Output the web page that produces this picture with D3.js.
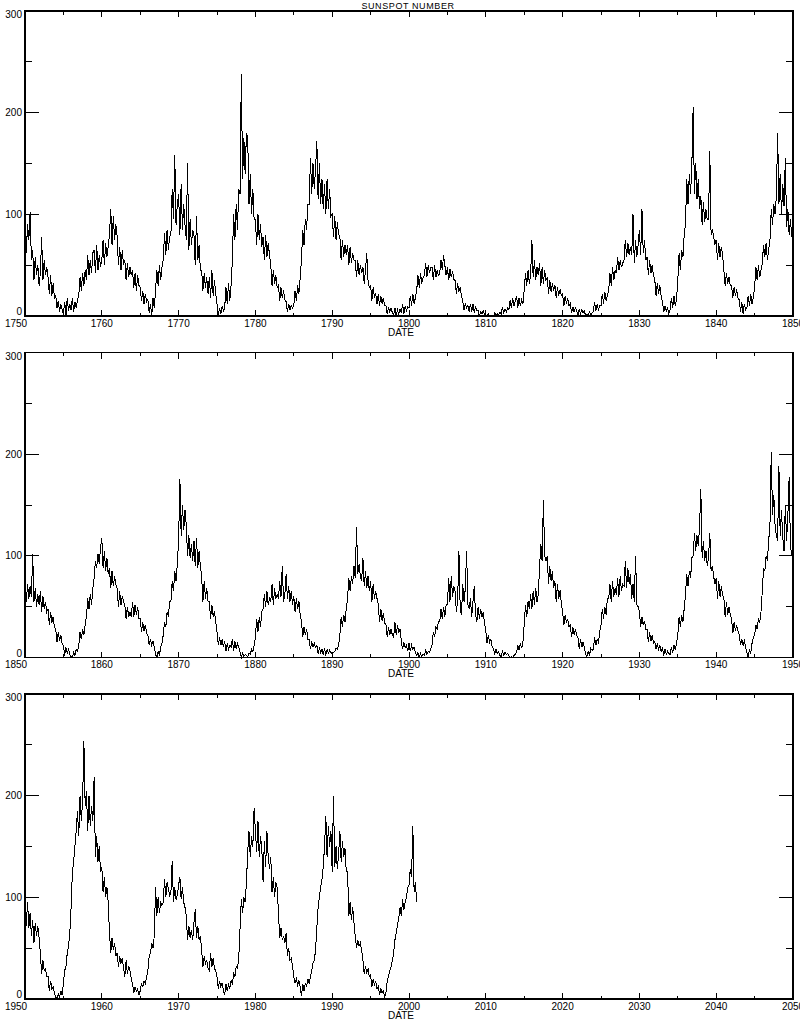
<!DOCTYPE html>
<html><head><meta charset="utf-8">
<script src="https://cdn.jsdelivr.net/npm/d3@7/dist/d3.min.js"></script>
<style>
html,body{margin:0;padding:0;background:#fff;}
svg text{font-family:"Liberation Sans",Arial,sans-serif;fill:#000;}
</style></head>
<body>
<svg id="chart" width="800" height="1024"></svg>
<script>
// Bi-monthly sunspot numbers (6 values per year)
const sun1750 = [
100,62,90,75,102,55, 65,35,58,40,50,30, 42,78,35,55,40,48, 38,22,40,20,32,18, 20,8,15,4,12,6,
2,14,0,18,5,12, 6,18,4,14,8,16, 20,38,25,42,30,45, 35,60,40,55,42,62, 65,42,70,45,60,48,
55,75,50,72,58,68, 80,105,70,98,75,90, 78,50,68,45,65,50, 55,35,52,38,48,40, 45,28,42,25,40,30,
28,15,25,12,22,14, 16,3,12,0,18,8, 25,45,30,50,35,48, 55,82,60,85,65,78, 80,125,95,158,90,110,
120,80,130,85,110,90, 75,150,65,95,70,85, 80,50,98,55,70,45, 45,25,42,28,38,22, 38,18,45,20,35,22,
12,0,8,2,10,5, 8,28,12,32,15,30, 55,100,75,110,85,125, 120,238,135,175,140,180, 175,110,140,100,125,95,
95,70,100,75,90,68, 78,55,80,58,72,60, 50,30,45,32,40,28, 30,15,28,18,25,16, 14,4,12,6,10,8,
10,25,15,30,22,38, 55,85,70,95,85,110, 110,155,120,150,125,145, 172,115,150,110,135,105, 130,100,135,105,125,98,
100,78,98,75,92,80, 78,55,75,58,70,60, 70,50,68,52,62,55, 55,38,55,40,50,42, 48,32,45,62,35,28,
30,15,28,18,22,12, 22,10,20,12,18,10, 10,2,9,4,8,3, 1,8,0,6,2,7, 3,12,2,10,5,9,
8,20,10,22,12,18, 25,40,28,42,32,38, 40,52,38,50,42,48, 48,35,50,38,45,40, 42,55,45,60,50,40,
48,35,46,38,44,36, 35,22,32,24,28,20, 15,6,12,8,10,4, 12,4,12,3,10,5, 5,0,4,2,5,1,
0,0,2,0,0,1, 0,3,0,2,1,4, 2,9,3,7,4,8, 6,16,8,18,10,15, 20,8,18,10,16,12,
25,42,30,45,32,40, 75,38,55,35,48,40, 52,30,48,32,45,35, 38,22,35,24,32,25, 30,18,28,20,26,20,
22,10,20,12,18,10, 12,3,9,4,8,5, 1,7,2,6,3,5, 0,2,0,4,1,3, 4,14,5,12,6,10,
10,22,12,24,15,20, 25,42,30,48,35,45, 42,58,45,55,48,52, 55,75,58,72,60,68, 60,100,52,75,58,70,
85,60,105,62,75,55, 58,40,55,42,50,40, 36,20,32,22,30,20, 14,4,10,5,8,2, 6,18,8,20,10,16,
35,62,45,65,58,80, 90,135,110,140,120,150, 206,120,150,115,135,105, 118,90,112,92,105,95, 95,162,80,85,78,70,
75,55,72,58,68,60, 45,30,42,32,38,30, 30,18,28,20,26,18, 16,4,14,2,12,6, 8,20,10,22,12,18,
28,48,35,50,38,45, 52,70,58,72,55,65, 75,105,90,110,100,118, 180,110,140,100,130,108, 155,88,105,80,95,78
];
const sun1850 = [
75,55,72,58,70,60, 102,55,68,50,62,52, 65,45,60,48,55,45, 48,32,45,34,40,30, 28,15,25,16,22,14,
12,2,10,4,8,3, 1,0,5,2,8,6, 12,25,18,28,22,32, 40,58,48,62,52,68, 78,95,88,102,92,108,
117,88,105,85,98,82, 88,68,85,70,80,72, 68,50,65,52,60,55, 52,38,50,40,45,40, 55,40,52,42,50,38,
38,25,35,26,32,24, 22,12,18,12,16,10, 3,0,6,2,10,14, 22,35,30,45,40,55, 55,75,65,85,75,92,
115,176,120,150,125,145, 130,100,120,98,112,95, 115,90,118,88,105,90, 80,55,75,58,68,55, 55,38,52,40,46,35,
25,12,20,12,18,10, 16,6,14,8,12,10, 18,6,16,8,14,10, 5,0,4,1,3,2, 1,4,3,8,6,12,
20,38,25,40,30,45, 48,62,50,65,52,58, 55,72,52,68,58,62, 58,75,60,90,55,62, 82,58,70,55,65,52,
60,45,58,48,55,42, 35,20,30,22,28,18, 18,8,16,10,14,10, 12,4,9,5,8,3, 9,2,8,4,7,5,
3,5,6,9,8,12, 22,40,30,42,35,48, 58,78,65,80,72,90, 78,128,82,92,80,75, 98,70,85,68,80,65,
75,55,72,58,65,58, 52,35,48,36,44,34, 32,20,30,22,28,22, 20,35,22,32,24,28, 16,8,15,10,12,6,
14,6,12,8,10,5, 2,5,0,4,1,3, 2,7,3,6,5,9, 12,25,20,30,28,35, 35,48,38,50,40,52,
52,78,55,80,60,70, 65,45,55,105,48,42, 72,55,68,105,52,48, 58,40,55,70,42,35, 50,38,48,40,45,34,
26,14,22,15,18,10, 9,3,8,4,6,2, 1,6,2,5,3,4, 2,0,1,0,2,3, 5,12,7,14,9,15,
32,52,40,55,48,62, 48,65,52,68,55,62, 88,112,95,155,100,95, 100,72,90,75,85,68, 75,55,72,58,66,54,
45,32,42,34,38,30, 32,20,30,22,28,22, 20,8,18,10,15,10, 3,1,6,2,9,7, 8,20,12,18,15,25,
32,48,38,50,42,58, 58,72,55,75,60,68, 62,78,60,80,65,72, 70,95,68,88,72,82, 58,72,55,100,52,50,
45,30,40,32,36,28, 28,15,25,16,22,14, 16,8,14,8,12,6, 10,2,8,3,6,4, 3,10,5,12,8,14,
22,40,30,42,35,48, 62,82,70,85,78,98, 100,122,105,120,110,128, 166,98,115,95,105,90, 98,122,85,90,80,72,
78,58,75,60,70,62, 58,40,55,42,50,42, 38,24,35,26,32,26, 22,12,18,12,16,10, 5,0,8,4,14,20,
22,32,28,38,35,45, 65,88,85,100,95,115, 130,202,140,160,130,120, 115,188,120,145,118,105, 150,115,140,178,110,100
];
const sun1950 = [
110,72,95,70,85,62, 78,55,75,62,72,60, 45,25,38,28,30,22, 22,8,18,10,12,6, 2,0,5,1,8,4,
15,28,32,45,52,65, 90,125,135,150,165,185, 160,200,175,195,254,190, 205,165,200,170,190,175, 218,140,160,135,150,125,
130,105,120,100,110,95, 65,45,60,48,55,42, 45,32,42,35,40,30, 22,38,25,32,28,20, 15,6,12,8,10,4,
8,15,12,18,15,22, 28,42,45,55,50,62, 110,82,100,85,95,92, 95,118,100,115,108,102, 105,136,95,110,98,102,
112,120,98,110,95,90, 82,58,72,60,68,58, 75,88,60,72,58,62, 48,32,42,35,38,30, 28,45,32,40,30,28,
22,10,18,12,16,8, 4,15,8,14,10,18, 15,25,22,32,30,40, 70,98,85,100,95,115, 145,165,140,160,150,188,
165,145,175,140,160,148, 115,155,130,165,140,128, 140,105,120,100,115,110, 85,60,70,58,62,55, 65,42,50,38,40,32,
22,16,20,14,18,12, 3,15,8,16,12,20, 15,22,28,35,38,48, 70,90,100,110,118,130, 150,180,140,170,150,165,
125,200,130,150,128,142, 165,135,155,140,148,125, 125,82,95,78,90,75, 62,50,58,52,55,48, 38,25,32,26,30,22,
24,12,20,14,18,10, 12,4,10,6,8,2, 6,18,22,28,32,38, 45,58,65,72,80,90, 82,98,88,95,100,110,
112,128,120,170,105,115, 95
];
const panelStarts = [1750, 1850, 1950];
const panelSeries = [sun1750, sun1850, sun1950];
const perYear = 6;
const yTickLabels = [0, 100, 200, 300];
const titleText = "SUNSPOT NUMBER";
const xAxisTitle = "DATE";

const svg = d3.select("#chart");
const left = 25, right = 793, ph = 305;
const tops = [11, 352.5, 694];

svg.append("text").attr("x", 408).attr("y", 8.5).attr("text-anchor", "middle")
  .attr("font-size", 9).attr("letter-spacing", 0.6).text(titleText);

panelStarts.forEach((start, p) => {
  const top = tops[p], bottom = top + ph;
  const x = d3.scaleLinear().domain([start, start + 100]).range([left, right]);
  const y = d3.scaleLinear().domain([0, 300]).range([bottom, top]);
  const g = svg.append("g");
  const vals = panelSeries[p];
  const pts = vals.map((v, i) => [start + i / perYear, v]);

  const line = d3.line().x(d => x(d[0])).y(d => y(d[1]));
  g.append("path").datum(pts).attr("d", line).attr("fill", "none")
    .attr("stroke", "#000").attr("stroke-width", 1).attr("shape-rendering", "crispEdges");

  // frame
  g.append("rect").attr("x", left).attr("y", top).attr("width", right - left).attr("height", ph)
    .attr("fill", "none").attr("stroke", "#000").attr("stroke-width", 1.2).attr("shape-rendering", "crispEdges");

  const majorX = d3.range(start, start + 101, 10);
  const minorX = d3.range(start + 5, start + 100, 10);
  const tk = (xs, len) => {
    xs.forEach(v => {
      g.append("line").attr("x1", x(v)).attr("x2", x(v)).attr("y1", bottom).attr("y2", bottom - len)
        .attr("stroke", "#000").attr("shape-rendering", "crispEdges");
      g.append("line").attr("x1", x(v)).attr("x2", x(v)).attr("y1", top).attr("y2", top + len)
        .attr("stroke", "#000").attr("shape-rendering", "crispEdges");
    });
  };
  tk(majorX, 6); tk(minorX, 3.5);
  const ytk = (vs, len) => {
    vs.forEach(v => {
      g.append("line").attr("x1", left).attr("x2", left + len).attr("y1", y(v)).attr("y2", y(v))
        .attr("stroke", "#000").attr("shape-rendering", "crispEdges");
      g.append("line").attr("x1", right).attr("x2", right - len).attr("y1", y(v)).attr("y2", y(v))
        .attr("stroke", "#000").attr("shape-rendering", "crispEdges");
    });
  };
  ytk([100, 200], 14); ytk([50, 150, 250], 7);

  majorX.forEach((v, i) => {
    g.append("text").attr("x", x(v) - (i === 0 ? 9 : 0)).attr("y", bottom + 10.5)
      .attr("text-anchor", "middle").attr("font-size", 10).text(v);
  });
  g.append("text").attr("x", (left + right) / 2 - 8).attr("y", bottom + 19.5)
    .attr("text-anchor", "middle").attr("font-size", 10).text(xAxisTitle);
  yTickLabels.forEach(v => {
    let yy = y(v) + 3.5;
    if (v === 0) yy = y(v) - 1;
    if (v === 300) yy = y(v) + 7;
    g.append("text").attr("x", 22).attr("y", yy).attr("text-anchor", "end")
      .attr("font-size", 10).text(v);
  });
});
</script>
</body></html>
